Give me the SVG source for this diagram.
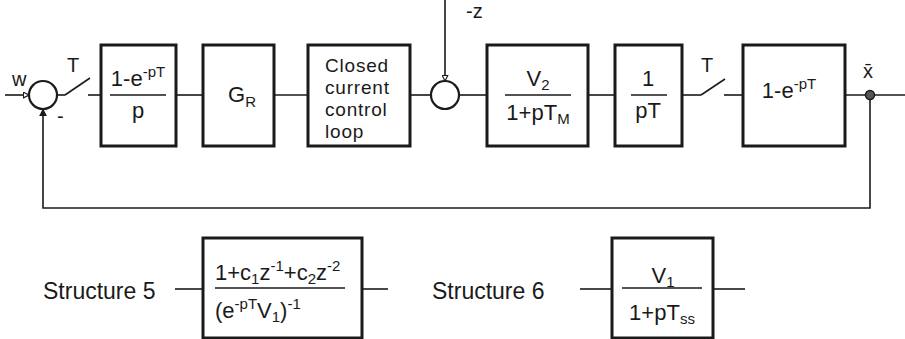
<svg xmlns="http://www.w3.org/2000/svg" width="905" height="339" viewBox="0 0 905 339">
<style>
text { font-family: "Liberation Sans", Arial, sans-serif; fill: #1a1a1a; }
.m { font-size: 22px; }
.s { font-size: 15px; }
.lbl { font-size: 20px; }
.big { font-size: 23px; }
.cl { font-size: 19px; letter-spacing: 0.8px; }
.blk { fill: #fff; stroke: #1a1a1a; stroke-width: 3; }
.ln { fill: none; stroke: #1a1a1a; stroke-width: 1.6; }
.fr { stroke: #1a1a1a; stroke-width: 1.6; }
.sum { fill: #fff; stroke: #1a1a1a; stroke-width: 2.2; }
</style>
<defs>
<marker id="openArrow" viewBox="0 0 10 10" refX="9" refY="5" markerWidth="7" markerHeight="7" markerUnits="userSpaceOnUse" orient="auto">
<path d="M1,1 L9,5 L1,9 Z" fill="#fff" stroke="#1a1a1a" stroke-width="1.6"/>
</marker>
<marker id="fillArrow" viewBox="0 0 10 10" refX="9" refY="5" markerWidth="8" markerHeight="8" markerUnits="userSpaceOnUse" orient="auto">
<path d="M0,0 L10,5 L0,10 Z" fill="#1a1a1a"/>
</marker>
</defs>

<g id="connectors">
<line class="ln" x1="5" y1="95" x2="29" y2="95" marker-end="url(#openArrow)"/>
<line class="ln" x1="57" y1="95" x2="65" y2="95"/>
<line class="ln" x1="88" y1="95" x2="101" y2="95"/>
<line class="ln" x1="176" y1="95" x2="203" y2="95"/>
<line class="ln" x1="274" y1="95" x2="308" y2="95"/>
<line class="ln" x1="410" y1="95" x2="431" y2="95"/>
<line class="ln" x1="445" y1="0" x2="445" y2="81" marker-end="url(#openArrow)"/>
<line class="ln" x1="459" y1="95" x2="487" y2="95"/>
<line class="ln" x1="588" y1="95" x2="615" y2="95"/>
<line class="ln" x1="682" y1="95" x2="701" y2="95"/>
<line class="ln" x1="724" y1="95" x2="743" y2="95"/>
<line class="ln" x1="845" y1="95" x2="905" y2="95"/>
<polyline class="ln" points="870,95 870,208 43,208 43,109" marker-end="url(#fillArrow)"/>
<line class="ln" x1="175" y1="289" x2="203" y2="289"/>
<line class="ln" x1="362" y1="289" x2="388" y2="289"/>
<line class="ln" x1="580" y1="289" x2="612" y2="289"/>
<line class="ln" x1="713" y1="289" x2="745" y2="289"/>
</g>

<g id="input-w">
<text class="lbl" x="12" y="86">w</text>
</g>

<g id="sum1">
<circle class="sum" cx="43" cy="95" r="14"/>
<text class="lbl" x="57" y="123">-</text>
</g>

<g id="sampler1">
<line class="ln" x1="65" y1="95" x2="90" y2="78"/>
<text class="lbl" x="67" y="72">T</text>
</g>

<g id="hold1">
<rect class="blk" x="101" y="45" width="75" height="101"/>
<text class="m" x="138" y="86" text-anchor="middle">1-e<tspan class="s" dy="-9">-pT</tspan></text>
<line class="fr" x1="110" y1="95" x2="166" y2="95"/>
<text class="m" x="138" y="118" text-anchor="middle">p</text>
</g>

<g id="controller-GR">
<rect class="blk" x="203" y="45" width="71" height="101"/>
<text class="m" x="228" y="102">G<tspan class="s" dy="5">R</tspan></text>
</g>

<g id="current-loop">
<rect class="blk" x="308" y="45" width="102" height="101"/>
<text class="cl" x="325" y="72">Closed</text>
<text class="cl" x="325" y="94">current</text>
<text class="cl" x="325" y="116">control</text>
<text class="cl" x="325" y="138">loop</text>
</g>

<g id="sum2">
<circle class="sum" cx="445" cy="95" r="14"/>
<text class="lbl" x="466" y="18">-z</text>
</g>

<g id="motor">
<rect class="blk" x="487" y="45" width="101" height="101"/>
<text class="m" x="538" y="86" text-anchor="middle">V<tspan class="s" dy="4">2</tspan></text>
<line class="fr" x1="505" y1="95" x2="571" y2="95"/>
<text class="m" x="538" y="120" text-anchor="middle">1+pT<tspan class="s" dy="4">M</tspan></text>
</g>

<g id="integrator">
<rect class="blk" x="615" y="45" width="67" height="101"/>
<text class="m" x="648" y="86" text-anchor="middle">1</text>
<line class="fr" x1="631" y1="95" x2="667" y2="95"/>
<text class="m" x="648" y="118" text-anchor="middle">pT</text>
</g>

<g id="sampler2">
<line class="ln" x1="701" y1="95" x2="725" y2="79"/>
<text class="lbl" x="701" y="72">T</text>
</g>

<g id="hold2">
<rect class="blk" x="743" y="45" width="102" height="101"/>
<text class="m" x="789" y="98" text-anchor="middle">1-e<tspan class="s" dy="-9">-pT</tspan></text>
</g>

<g id="output-x">
<circle cx="870" cy="95" r="4.5" fill="#555" stroke="#1a1a1a" stroke-width="1.5"/>
<text class="lbl" x="863" y="78">x̄</text>
</g>

<g id="structure5">
<text class="big" x="43" y="299">Structure 5</text>
<rect class="blk" x="203" y="238" width="159" height="100"/>
<text class="m" x="215" y="280">1+c<tspan class="s" dy="4">1</tspan><tspan dy="-4">z</tspan><tspan class="s" dy="-9">-1</tspan><tspan dy="9">+c</tspan><tspan class="s" dy="4">2</tspan><tspan dy="-4">z</tspan><tspan class="s" dy="-9">-2</tspan></text>
<line class="fr" x1="215" y1="288" x2="345" y2="288"/>
<text class="m" x="215" y="318">(e<tspan class="s" dy="-9">-pT</tspan><tspan dy="9">V</tspan><tspan class="s" dy="4">1</tspan><tspan dy="-4">)</tspan><tspan class="s" dy="-9">-1</tspan></text>
</g>

<g id="structure6">
<text class="big" x="432" y="299">Structure 6</text>
<rect class="blk" x="612" y="238" width="101" height="100"/>
<text class="m" x="663" y="283" text-anchor="middle">V<tspan class="s" dy="4">1</tspan></text>
<line class="fr" x1="622" y1="288" x2="702" y2="288"/>
<text class="m" x="662" y="320" text-anchor="middle">1+pT<tspan class="s" dy="4">ss</tspan></text>
</g>
</svg>
